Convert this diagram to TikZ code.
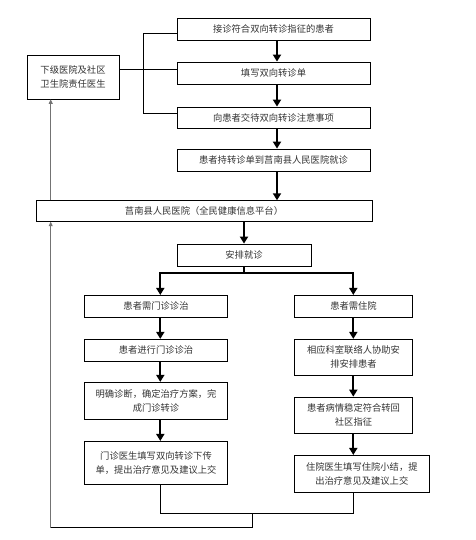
\documentclass[tikz,border=0pt]{standalone}
\usepackage{fontspec}
\newfontfamily\cjk{Noto Sans CJK SC}
\usetikzlibrary{arrows.meta,calc}
\begin{document}
\begin{tikzpicture}[x=1pt,y=-1pt,
  box/.style={draw, line width=0.8pt, inner sep=0pt, align=center,
    font=\cjk\fontsize{9.3}{14}\selectfont, text=black!80},
  mainarrow/.style={line width=2pt, -{Triangle[width=8pt,length=7pt]}},
  thinline/.style={line width=0.8pt},
  fbarrow/.style={draw=black!55, line width=0.9pt, -{Triangle[width=4pt,length=4.5pt]}}]
\useasboundingbox (0,0) rectangle (475,540);
% top column
\node[box, minimum width=193pt, minimum height=22pt] (A) at (273.5,29) {接诊符合双向转诊指征的患者};
\node[box, minimum width=193pt, minimum height=22pt] (B) at (273.5,73) {填写双向转诊单};
\node[box, minimum width=193pt, minimum height=21pt] (C) at (273.5,117.5) {向患者交待双向转诊注意事项};
\node[box, minimum width=193pt, minimum height=22pt] (D) at (273.5,160) {患者持转诊单到莒南县人民医院就诊};
\node[box, minimum width=92pt, minimum height=44pt] (Lft) at (73,77) {下级医院及社区\\卫生院责任医生};
\node[box, minimum width=336pt, minimum height=20.6pt] (Big) at (204,211) {莒南县人民医院（全民健康信息平台）};
\node[box, minimum width=134pt, minimum height=22pt] (S) at (244,255) {安排就诊};
% left column
\node[box, minimum width=142.6pt, minimum height=21.7pt] (L1) at (156,306.2) {患者需门诊诊治};
\node[box, minimum width=142.6pt, minimum height=22pt] (L2) at (156,350.3) {患者进行门诊诊治};
\node[box, minimum width=142.6pt, minimum height=37pt] (L3) at (156,400.8) {明确诊断，确定治疗方案，完\\成门诊转诊};
\node[box, minimum width=142.6pt, minimum height=42.7pt] (L4) at (156,462.7) {门诊医生填写双向转诊下传\\单，提出治疗意见及建议上交};
% right column
\node[box, minimum width=118.4pt, minimum height=21.7pt] (R1) at (353.5,306.2) {患者需住院};
\node[box, minimum width=118.4pt, minimum height=36pt] (R2) at (353.5,357.3) {相应科室联络人协助安\\排安排患者};
\node[box, minimum width=118.4pt, minimum height=36.3pt] (R3) at (353.5,415.2) {患者病情稳定符合转回\\社区指征};
\node[box, minimum width=135pt, minimum height=36.7pt] (R4) at (361.8,473.7) {住院医生填写住院小结，提\\出治疗意见及建议上交};
% helper coordinates
\coordinate (mx) at (277,0);
\coordinate (lx) at (160.3,0);
\coordinate (rx) at (353.3,0);
\coordinate (fx) at (50.7,0);
\coordinate (bx) at (143,0);
\coordinate (yA) at (0,33);
\coordinate (yB) at (0,69);
\coordinate (yC) at (0,113);
\coordinate (sp) at (244,272.7);
\coordinate (jn) at (252.3,513.3);
\coordinate (bot) at (0,527.7);
% main flow
\draw[mainarrow] (A.south -| mx) -- (B.north -| mx);
\draw[mainarrow] (B.south -| mx) -- (C.north -| mx);
\draw[mainarrow] (C.south -| mx) -- (D.north -| mx);
\draw[mainarrow] (D.south -| mx) -- (Big.north -| mx);
\draw[mainarrow] (Big.south -| S.south) -- (S.north);
\draw[line width=2pt] (S.south) -- (sp);
\draw[mainarrow] (sp) -| (L1.north -| lx);
\draw[mainarrow] (sp) -| (R1.north -| rx);
\draw[mainarrow] (L1.south -| lx) -- (L2.north -| lx);
\draw[mainarrow] (L2.south -| lx) -- (L3.north -| lx);
\draw[mainarrow] (L3.south -| lx) -- (L4.north -| lx);
\draw[mainarrow] (R1.south -| rx) -- (R2.north -| rx);
\draw[mainarrow] (R2.south -| rx) -- (R3.north -| rx);
\draw[mainarrow] (R3.south -| rx) -- (R4.north -| rx);
% bracket
\draw[thinline] (A.west |- yA) -- (bx |- yA) -- (bx |- yC) -- (C.west |- yC);
\draw[thinline] (Lft.east |- yB) -- (B.west |- yB);
% bottom joins
\draw[thinline] (L4.south -| lx) -- (lx |- jn) -- (rx |- jn) -- (R4.south -| rx);
\draw[thinline] (jn) -- (jn |- bot) -- (fx |- bot);
\draw[fbarrow] (fx |- bot) -- (Big.south -| fx);
\draw[fbarrow] (Big.north -| fx) -- (Lft.south -| fx);
\end{tikzpicture}
\end{document}
